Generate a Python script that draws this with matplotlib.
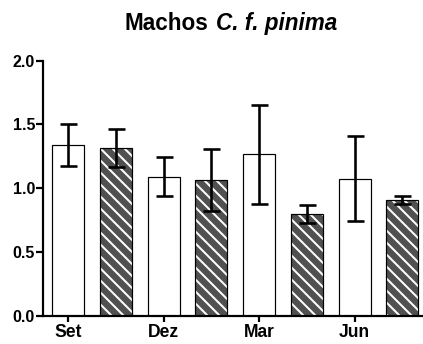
import numpy as np
import matplotlib.pyplot as plt

months = ["Set", "Dez", "Mar", "Jun"]
# white bars (first series) and hatched bars (second series)
mean_a = [1.34, 1.09, 1.265, 1.075]
err_a = [0.165, 0.153, 0.387, 0.33]
mean_b = [1.315, 1.062, 0.795, 0.905]
err_b = [0.152, 0.243, 0.072, 0.032]

plt.rcParams["font.family"] = ["Liberation Sans", "DejaVu Sans"]
plt.rcParams["hatch.linewidth"] = 2.0

fig = plt.figure(figsize=(423 / 72, 344 / 72), dpi=72)
ax = fig.add_axes([43 / 423, 28.3 / 344, 379 / 423, 255.2 / 344])

x = np.arange(len(months)) * 2
w = 0.67

ax.bar(x, mean_a, w, color="white", edgecolor="black", linewidth=1.2, zorder=2)
# hatch colour follows edgecolor, so fill first and outline afterwards
ax.bar(x + 1, mean_b, w, color="#505050", edgecolor="white", hatch="\\\\", linewidth=0, zorder=2)
ax.bar(x + 1, mean_b, w, fill=False, edgecolor="black", linewidth=1.2, zorder=3)

ax.errorbar(x, mean_a, yerr=err_a, fmt="none", ecolor="black", elinewidth=2.6,
            capsize=8.5, capthick=2.6, zorder=4)
ax.errorbar(x + 1, mean_b, yerr=err_b, fmt="none", ecolor="black", elinewidth=2.6,
            capsize=8.5, capthick=2.6, zorder=4)

ax.set_xlim(-0.523, 7.41)
ax.set_ylim(0, 2.0)
ax.set_yticks([0.0, 0.5, 1.0, 1.5, 2.0])
ax.set_yticklabels(["0.0", "0.5", "1.0", "1.5", "2.0"])
ax.set_xticks(x)
ax.set_xticklabels(months)

for lab in ax.get_yticklabels():
    lab.set_fontweight("bold")
    lab.set_fontsize(16)
for lab in ax.get_xticklabels():
    lab.set_fontweight("bold")
    lab.set_fontsize(17.5)

ax.spines["top"].set_visible(False)
ax.spines["right"].set_visible(False)
ax.spines["left"].set_linewidth(2.2)
ax.spines["bottom"].set_linewidth(2.2)
ax.tick_params(axis="y", direction="out", length=7, width=2.2, pad=1)
ax.tick_params(axis="x", direction="out", length=6, width=2.2, pad=2)

# title: plain "Machos" followed by the italic species name
fig.text(208 / 423, 1 - 30 / 344, "Machos", ha="right", va="baseline",
         fontsize=22.5, fontweight="bold")
fig.text(216 / 423, 1 - 30 / 344, "C. f. pinima", ha="left", va="baseline",
         fontsize=22.5, fontweight="bold", fontstyle="italic")

fig.savefig("out.png", dpi=72)
